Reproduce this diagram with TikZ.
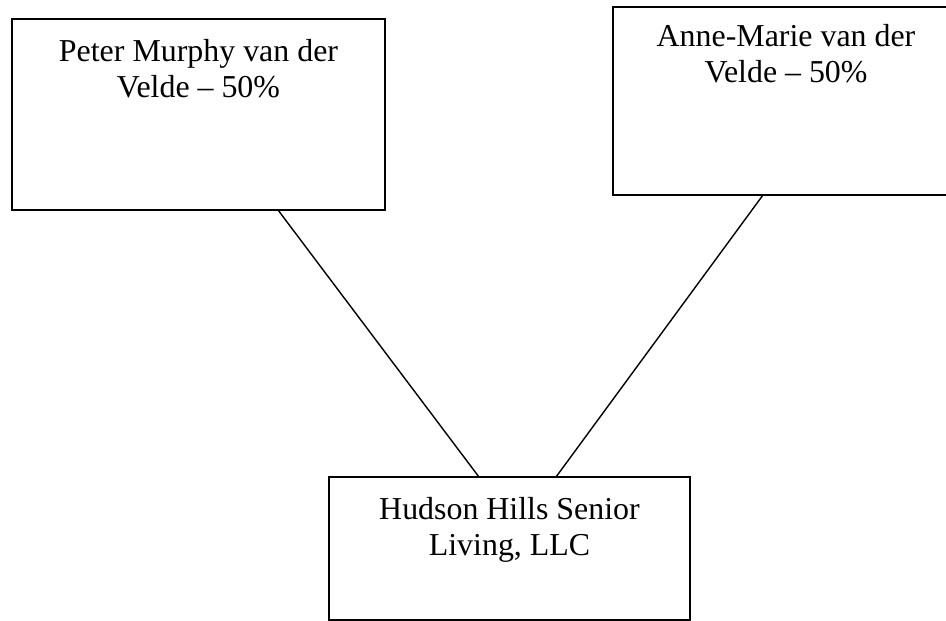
\documentclass[tikz,border=0pt]{standalone}
\usepackage{fontspec}
\setmainfont{Liberation Serif}
\usetikzlibrary{calc}
\begin{document}
\begin{tikzpicture}[x=1pt,y=-1pt,
  box/.style={draw=black,line width=1.8pt,rectangle,inner sep=0pt,outer sep=0pt},
  boxtext/.style={align=center,anchor=base,inner sep=0pt,font=\fontsize{31.9}{36.5}\selectfont},
  link/.style={draw=black,line width=1.4pt}]
\clip (0,0) rectangle (946,621);
\node[box,minimum width=373pt,minimum height=191pt] (L) at (198.5,114.5) {};
\node[box,minimum width=346pt,minimum height=188pt] (R) at (786,101) {};
\node[box,minimum width=361pt,minimum height=143pt] (B) at (509.5,548.5) {};
\node[boxtext] (Lt) at (198.5,97.5) {Peter Murphy van der\\Velde – 50\%};
\node[boxtext] (Rt) at (786,82.5) {Anne-Marie van der\\Velde – 50\%};
\node[boxtext] (Bt) at (509.5,555.5) {Hudson Hills Senior\\Living, LLC};
\draw[link] ([xshift=79.5pt]L.south) -- ([xshift=-30.5pt]B.north);
\draw[link] ([xshift=-23pt]R.south) -- ([xshift=46.5pt]B.north);
\end{tikzpicture}
\end{document}
